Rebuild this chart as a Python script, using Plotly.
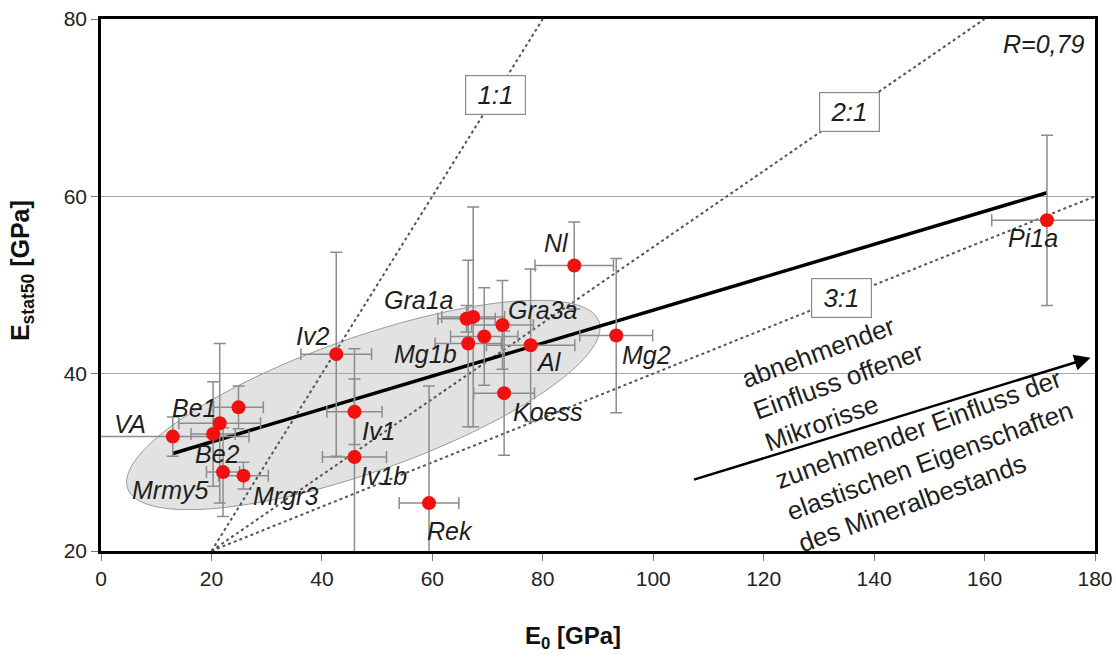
import numpy as np
import plotly.graph_objects as go

# ---------------- data ----------------
names = ["VA", "Be1", "Be2", "Be1c", "Mrmy5", "Mrgr3", "Iv2", "Iv1", "Iv1b", "Rek",
         "Gra1a", "Gra1b", "Mg1b", "Gra2", "Gra3a", "Al", "Koess", "Nl", "Mg2", "Pi1a"]
labels = ["VA", "Be1", "Be2", "", "Mrmy5", "Mrgr3", "Iv2", "Iv1", "Iv1b", "Rek",
          "Gra1a", "", "Mg1b", "", "Gra3a", "Al", "Koess", "Nl", "Mg2", "Pi1a"]
e0 = [13.0, 21.5, 20.3, 24.9, 22.1, 25.8, 42.6, 45.9, 45.9, 59.4,
      66.2, 67.4, 66.5, 69.4, 72.7, 77.8, 73.0, 85.7, 93.3, 171.3]
estat = [32.9, 34.4, 33.2, 36.2, 28.9, 28.5, 42.2, 35.7, 30.6, 25.4,
         46.2, 46.4, 43.4, 44.2, 45.5, 43.2, 37.8, 52.2, 44.3, 57.3]
e0_err = [13.8, 7.4, 4.0, 4.5, 3.0, 4.5, 6.4, 5.0, 5.8, 5.4,
          5.2, 5.7, 6.0, 6.1, 5.6, 8.0, 5.5, 7.1, 6.6, 10.0]
estat_err = [2.2, 9.0, 5.9, 2.4, 5.0, 1.5, 11.5, 3.7, 12.2, 13.2,
             1.5, 12.4, 9.4, 5.5, 5.0, 8.6, 7.0, 4.9, 8.7, 9.6]

# trend line (regression, R=0,79)
trend_x = [13.0, 171.3]
trend_y = [31.0, 60.4]

# ratio lines E0 : Estat50
ratio_names = ["1:1", "2:1", "3:1"]
ratio_x = [[20, 80], [20, 160], [20, 180]]
ratio_y = [[20, 80], [20, 80], [20, 60]]
ratio_label_x = [71.4, 135.5, 134.1]

x_ticks = [0, 20, 40, 60, 80, 100, 120, 140, 160, 180]
y_ticks = [20, 40, 60, 80]

# ---------------- layout geometry ----------------
W, H = 1116, 657
M = dict(l=101, r=21, t=19, b=106)
X_RANGE = [0, 180]
Y_RANGE = [20, 80]
px_x = (W - M["l"] - M["r"]) / (X_RANGE[1] - X_RANGE[0])
px_y = (H - M["t"] - M["b"]) / (Y_RANGE[1] - Y_RANGE[0])

TXT = "#1e1e1e"
FONT = "Liberation Sans, Arial, sans-serif"

fig = go.Figure()

# ratio lines
for rx, ry in zip(ratio_x, ratio_y):
    fig.add_trace(go.Scatter(x=rx, y=ry, mode="lines",
                             line=dict(color="#555555", width=2, dash="dot"),
                             hoverinfo="skip", showlegend=False))

# trend line
fig.add_trace(go.Scatter(x=trend_x, y=trend_y, mode="lines",
                         line=dict(color="black", width=3.5),
                         hoverinfo="skip", showlegend=False))

# data points with error bars
fig.add_trace(go.Scatter(
    x=e0, y=estat, mode="markers", text=names,
    marker=dict(color="#f01010", size=14, line=dict(width=0)),
    error_x=dict(type="data", array=e0_err, color="#8c8c8c", thickness=1.5, width=6),
    error_y=dict(type="data", array=estat_err, color="#8c8c8c", thickness=1.5, width=6),
    cliponaxis=False, showlegend=False))

# ellipse (grey envelope) -- drawn in screen proportions
ell_c = (47.5, 36.47)
ell_a, ell_b, ell_ang = 250, 67, np.deg2rad(19.5)
t = np.linspace(0, 2 * np.pi, 160)
u, v = ell_a * np.cos(t), ell_b * np.sin(t)
sx = u * np.cos(ell_ang) - v * np.sin(ell_ang)
sy = u * np.sin(ell_ang) + v * np.cos(ell_ang)
ex = ell_c[0] + sx / px_x
ey = ell_c[1] + sy / px_y
path = "M " + " L ".join(f"{a:.3f},{b:.3f}" for a, b in zip(ex, ey)) + " Z"
fig.add_shape(type="path", path=path, xref="x", yref="y", layer="below",
              fillcolor="#e2e2e2", line=dict(color="#9a9a9a", width=1))

# point labels (offsets in pixels)
label_off = {
    "VA": (-43, 13), "Be1": (-26, 15), "Be2": (4, -20), "Mrmy5": (-53, -18),
    "Mrgr3": (42, -20), "Iv2": (-24, 18), "Iv1": (24, -19), "Iv1b": (29, -19),
    "Rek": (21, -28), "Gra1a": (-48, 19), "Mg1b": (-43, -10), "Gra3a": (41, 15),
    "Al": (18, -17), "Koess": (43, -19), "Nl": (-18, 22), "Mg2": (30, -19),
    "Pi1a": (-14, -18),
}
for n, lab, xx, yy in zip(names, labels, e0, estat):
    if not lab:
        continue
    dx, dy = label_off[lab]
    fig.add_annotation(x=xx, y=yy, text=lab, showarrow=False, xshift=dx, yshift=dy,
                       font=dict(family=FONT, size=25, color=TXT, style="italic"))

# ratio labels in boxes
for rn, rx, ry, lx in zip(ratio_names, ratio_x, ratio_y, ratio_label_x):
    ly = ry[0] + (ry[1] - ry[0]) * (lx - rx[0]) / (rx[1] - rx[0])
    fig.add_annotation(x=lx, y=ly, text="&nbsp;" + rn + "&nbsp;", showarrow=False,
                       font=dict(family=FONT, size=26, color=TXT, style="italic"),
                       bgcolor="white", bordercolor="#8c8c8c", borderwidth=1.2,
                       borderpad=4)

fig.add_annotation(x=178.3, y=77.2, text="R=0,79", showarrow=False, xanchor="right",
                   font=dict(family=FONT, size=25, color=TXT, style="italic"))

fig.add_annotation(x=133.6, y=39.2, text="abnehmender<br>Einfluss offener<br>Mikrorisse",
                   showarrow=False, textangle=-20, align="left",
                   font=dict(family=FONT, size=26, color=TXT))
fig.add_annotation(x=150.1, y=30.1,
                   text="zunehmender Einfluss der<br>elastischen Eigenschaften<br>des Mineralbestands",
                   showarrow=False, textangle=-20, align="left",
                   font=dict(family=FONT, size=26, color=TXT))
# arrow
fig.add_annotation(x=179.2, y=41.8, ax=107.1, ay=28.0, xref="x", yref="y",
                   axref="x", ayref="y", text="", showarrow=True,
                   arrowhead=2, arrowsize=1.3, arrowwidth=2.5, arrowcolor="black")

# axis titles
fig.add_annotation(x=-0.0795, y=0.528, xref="paper", yref="paper",
                   xanchor="center", yanchor="middle",
                   text="<b>E<sub>stat50</sub> [GPa]</b>", showarrow=False, textangle=-90,
                   font=dict(family=FONT, size=25, color="#111"))
fig.add_annotation(x=0.475, y=-0.163, xref="paper", yref="paper",
                   xanchor="center", yanchor="middle",
                   text="<b>E<sub>0</sub> [GPa]</b>", showarrow=False,
                   font=dict(family=FONT, size=24, color="#111"))

fig.update_layout(
    width=W, height=H, margin=M, plot_bgcolor="white", paper_bgcolor="white",
    font=dict(family=FONT, color=TXT),
    xaxis=dict(range=X_RANGE, tickvals=x_ticks, showgrid=False, zeroline=False,
               automargin=False, ticklabeloverflow="allow",
               showline=True, linecolor="black", linewidth=2.5, mirror=True,
               ticks="outside", ticklen=7, tickcolor="#777", tickwidth=1,
               tickfont=dict(family=FONT, size=21, color="#222")),
    yaxis=dict(range=Y_RANGE, tickvals=y_ticks, showgrid=True, gridcolor="#a8a8a8",
               gridwidth=1.3, zeroline=False, automargin=False,
               ticklabeloverflow="allow",
               showline=True, linecolor="black", linewidth=2.5, mirror=True,
               ticks="outside", ticklen=7, tickcolor="#777", tickwidth=1,
               tickfont=dict(family=FONT, size=21, color="#222")),
)

fig.write_html("out.html",
               config={"displayModeBar": False},
               post_script="document.body.style.margin='0px';"
                           "document.body.style.overflow='hidden';")
